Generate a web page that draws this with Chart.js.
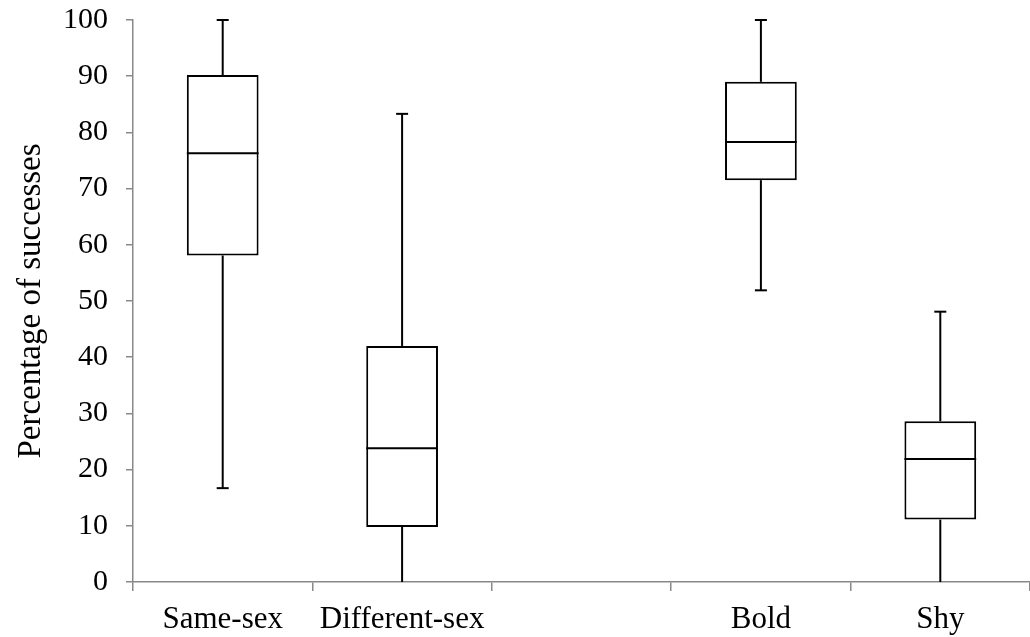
<!DOCTYPE html>
<html>
<head>
<meta charset="utf-8">
<script src="https://cdn.jsdelivr.net/npm/chart.js@4/dist/chart.umd.min.js"></script>
<style>
  html, body { margin: 0; padding: 0; background: #fff; }
  #box { display: block; }
</style>
</head>
<body>
<canvas id="box" width="1030" height="637"></canvas>
<script>
// box plot: success rate by pairing and by personality
const groups  = ['Same-sex', 'Different-sex', '', 'Bold', 'Shy'];
const mins    = [16.7, 0,    null, 51.9, 0];
const q1s     = [58.1, 9.8,  null, 71.5, 11.1];
const medians = [76.3, 23.8, null, 78.3, 21.9];
const q3s     = [90.2, 42.0, null, 89.0, 28.6];
const maxs    = [100,  83.3, null, 100,  48.1];
const yTicks  = [0, 10, 20, 30, 40, 50, 60, 70, 80, 90, 100];

const serif = 'Liberation Serif, Times New Roman, serif';

// whiskers, caps and median lines drawn on top of the Q1-Q3 bars
const whiskers = {
  id: 'whiskers',
  afterDatasetsDraw(chart) {
    const { ctx, scales: { y } } = chart;
    const bars = chart.getDatasetMeta(0).data;
    ctx.save();
    ctx.strokeStyle = '#000';
    ctx.lineWidth = 2;
    bars.forEach((bar, i) => {
      if (medians[i] == null) return;
      const x = bar.x, half = bar.width / 2, cap = 6;
      const line = (x1, y1, x2, y2) => {
        ctx.beginPath(); ctx.moveTo(x1, y1); ctx.lineTo(x2, y2); ctx.stroke();
      };
      const yMed = y.getPixelForValue(medians[i]);
      line(x - half, yMed, x + half, yMed);
      const yMax = y.getPixelForValue(maxs[i]), yQ3 = y.getPixelForValue(q3s[i]);
      line(x, yQ3, x, yMax);
      if (maxs[i] > y.min) line(x - cap, yMax, x + cap, yMax);
      const yMin = y.getPixelForValue(mins[i]), yQ1 = y.getPixelForValue(q1s[i]);
      line(x, yQ1, x, yMin);
      if (mins[i] > y.min) line(x - cap, yMin, x + cap, yMin);
    });
    ctx.restore();
  }
};

new Chart(document.getElementById('box'), {
  type: 'bar',
  data: {
    labels: groups,
    datasets: [{
      data: groups.map((g, i) => q1s[i] == null ? null : [q1s[i], q3s[i]]),
      backgroundColor: '#fff',
      borderColor: '#000',
      borderWidth: 2,
      borderSkipped: false,
      barPercentage: 0.4,
      categoryPercentage: 1
    }]
  },
  options: {
    responsive: false,
    animation: false,
    layout: { padding: { top: 20, right: 0, bottom: 0, left: 0 } },
    plugins: { legend: { display: false }, tooltip: { enabled: false } },
    scales: {
      x: {
        grid: { drawOnChartArea: false, drawTicks: true, tickLength: 9, color: '#898989', lineWidth: 1.5, offset: true },
        border: { color: '#898989', width: 1.5 },
        ticks: { color: '#000', font: { family: serif, size: 31 }, padding: 10, maxRotation: 0, autoSkip: false },
        afterFit(scale) { scale.height = 55; scale.paddingLeft = 0; scale.paddingRight = 0; }
      },
      y: {
        min: 0,
        max: 100,
        afterBuildTicks(scale) { scale.ticks = yTicks.map(v => ({ value: v })); },
        grid: { drawOnChartArea: false, drawTicks: true, tickLength: 7, color: '#898989', lineWidth: 1.5 },
        border: { color: '#898989', width: 1.5 },
        ticks: { color: '#000', font: { family: serif, size: 30 }, padding: 18 },
        title: {
          display: true,
          text: 'Percentage of successes',
          color: '#000',
          font: { family: serif, size: 33 },
          padding: { top: 12, bottom: 0 }
        },
        afterFit(scale) { scale.width = 133; scale.paddingTop = 0; scale.paddingBottom = 0; }
      }
    }
  },
  plugins: [whiskers]
});
</script>
</body>
</html>
